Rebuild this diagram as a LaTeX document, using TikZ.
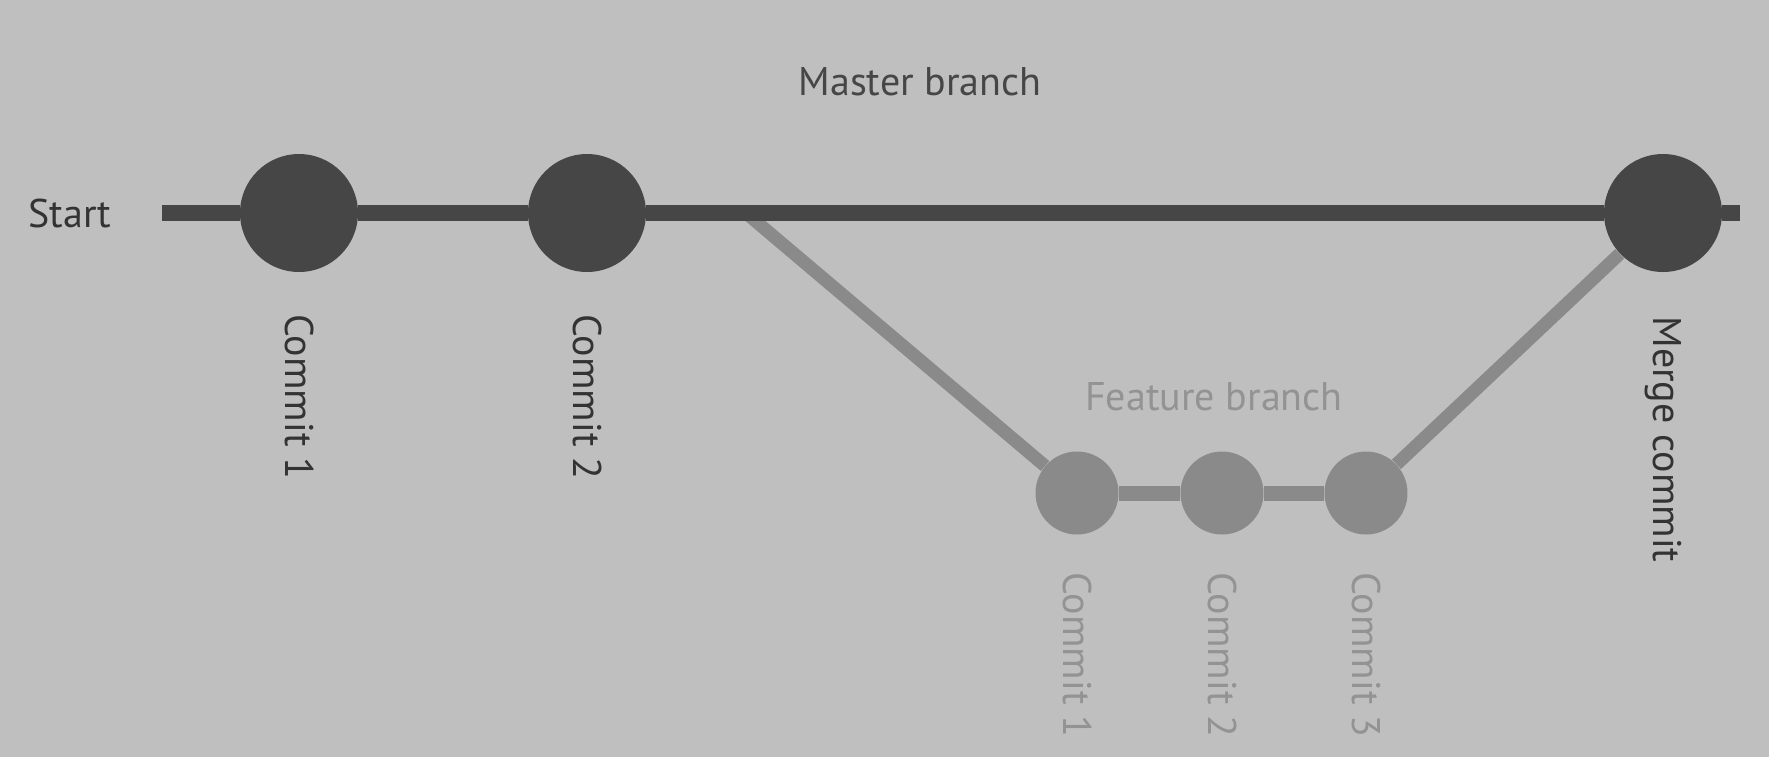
\documentclass[tikz,border=0pt]{standalone}
\usepackage{fontspec}
\setmainfont{PT Sans}
\usetikzlibrary{positioning}
\definecolor{bgcol}{HTML}{BFBFC0}
\definecolor{mastercol}{HTML}{464646}
\definecolor{featurecol}{HTML}{8A8A8A}
\definecolor{textcol}{HTML}{333333}
\definecolor{ftextcol}{HTML}{939393}

\begin{document}
\begin{tikzpicture}[x=0.5pt,y=-0.5pt,on grid]
    \tikzstyle{mcommit}=[shape=circle,fill=mastercol,inner sep=0pt,minimum size=59pt]
    \tikzstyle{fcommit}=[shape=circle,fill=featurecol,inner sep=0pt,minimum size=41.5pt]
    \tikzstyle{tag}=[inner sep=0pt,text=textcol,font=\fontsize{20}{24}\selectfont]
    \tikzstyle{vtag}=[tag,rotate=-90,anchor=west]

    \fill[bgcol] (0,0) rectangle (1769,757);
    \useasboundingbox (0,0) rectangle (1769,757);

    \node[mcommit] (C1) at (299,213) {};
    \node[mcommit, right=144pt of C1] (C2) {};
    \node[mcommit, right=538pt of C2] (M) {};
    \node[fcommit] (F1) at (1077,493) {};
    \node[fcommit, right=72.5pt of F1] (F2) {};
    \node[fcommit, right=72pt of F2] (F3) {};
    \coordinate (head) at (162,213);
    \coordinate (tail) at (1740,213);
    \coordinate (fork) at (746,213);

    \node[tag, anchor=west] (S) at (28,213) {Start};
    \node[tag, text=mastercol] (MB) at (920,82) {Master branch};
    \node[tag, text=ftextcol] (FB) at (1214,397) {Feature branch};
    \node[vtag] (L1) at (299,314) {Commit 1};
    \node[vtag] (L2) at (587,314) {Commit 2};
    \node[vtag] (LM) at (1663,316) {Merge commit};
    \node[vtag, text=ftextcol] (K1) at (1077,572) {Commit 1};
    \node[vtag, text=ftextcol] (K2) at (1222,572) {Commit 2};
    \node[vtag, text=ftextcol] (K3) at (1366,572) {Commit 3};

    \path[draw, featurecol, line width=6.5pt]
    (fork) edge node {} (F1)
    (F3) edge node {} (M)
    ;
    \path[draw, featurecol, line width=7.5pt]
    (F1) edge node {} (F2)
    (F2) edge node {} (F3)
    ;
    \path[draw, mastercol, line width=8pt]
    (head) edge node {} (C1)
    (C1) edge node {} (C2)
    (C2) edge node {} (M)
    (M) edge node {} (tail)
    ;
\end{tikzpicture}
\end{document}
